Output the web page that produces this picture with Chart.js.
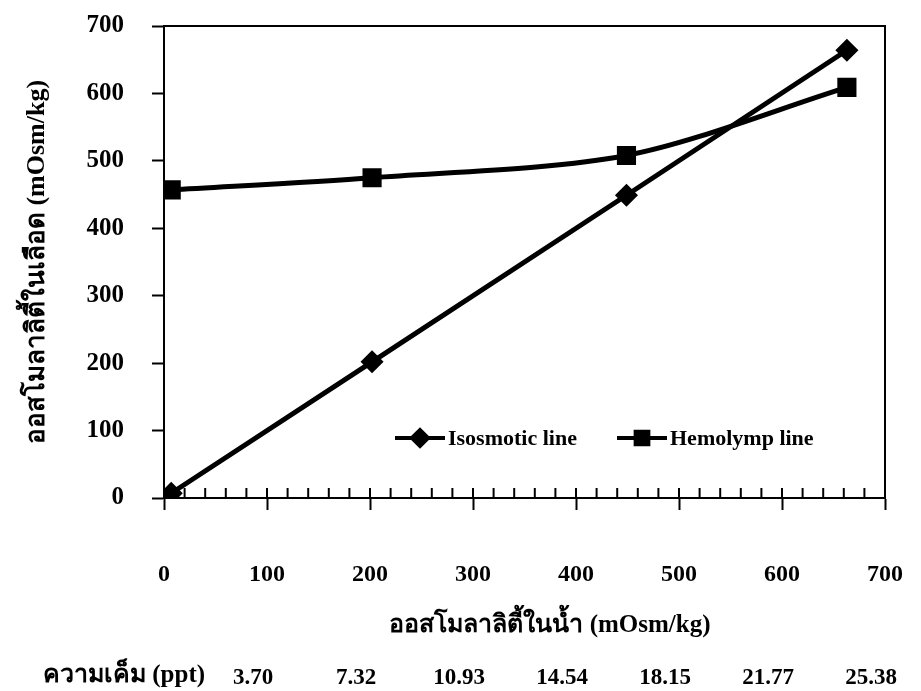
<!DOCTYPE html>
<html>
<head>
<meta charset="utf-8">
<script src="https://cdn.jsdelivr.net/npm/chart.js@4.4.0/dist/chart.umd.min.js"></script>
<style>
    html, body { margin: 0; padding: 0; background: #fff; }
    #div_chart { width: 921px; height: 691px; }
</style>
</head>
<body>
<div id="div_chart"><canvas id="myChart" width="921" height="691"></canvas></div>
<script>
// ค่าที่อ่านจากกราฟ
const osmNam = [7, 202, 449, 663];          // ออสโมลาลิตี้ในน้ำ
const isoLine = [7, 202, 449, 664];         // Isosmotic line
const hemoLine = [457, 475, 508, 609];      // Hemolymp line
const xTicks = [0, 100, 200, 300, 400, 500, 600, 700];
const yTicks = [0, 100, 200, 300, 400, 500, 600, 700];
const pptTicks = [100, 200, 300, 400, 500, 600, 700];
const pptLabels = ['3.70', '7.32', '10.93', '14.54', '18.15', '21.77', '25.38'];
const seriesNames = ['Isosmotic line', 'Hemolymp line'];

const serif = '"Liberation Serif", "Noto Sans", serif';

function toPoints(xs, ys) {
    const pts = [];
    for (let i = 0; i < xs.length; i++) {
        pts.push({ x: xs[i], y: ys[i] });
    }
    return pts;
}

// khung, vạch chia nhỏ trục x, chú thích và hàng ppt
const extras = {
    id: 'extras',
    afterDraw(chart) {
        const ctx = chart.ctx;
        const a = chart.chartArea;
        const xs = chart.scales.x;
        ctx.save();
        ctx.strokeStyle = '#000';
        ctx.lineWidth = 2;
        ctx.strokeRect(a.left, a.top, a.right - a.left, a.bottom - a.top);

        // vạch chia hướng vào trong
        for (let v = 20; v < 700; v += 20) {
            const px = xs.getPixelForValue(v);
            ctx.beginPath();
            ctx.moveTo(px, a.bottom);
            ctx.lineTo(px, a.bottom - 10);
            ctx.stroke();
        }

        // chú thích
        const legendY = 438;
        const items = [
            { x: 395, style: 'rectRot', r: 8, name: seriesNames[0] },
            { x: 617, style: 'rect', r: 9, name: seriesNames[1] }
        ];
        ctx.font = 'bold 22px ' + serif;
        ctx.textBaseline = 'middle';
        ctx.textAlign = 'left';
        ctx.fillStyle = '#000';
        items.forEach(function (it) {
            ctx.lineWidth = 4;
            ctx.beginPath();
            ctx.moveTo(it.x, legendY);
            ctx.lineTo(it.x + 50, legendY);
            ctx.stroke();
            Chart.helpers.drawPoint(ctx, {
                pointStyle: it.style, radius: it.r, rotation: 0, borderWidth: 1
            }, it.x + 25, legendY);
            ctx.fillStyle = '#000';
            ctx.fill();
            ctx.fillText(it.name, it.x + 53, legendY + 1);
        });

        // tiêu đề trục x
        ctx.textAlign = 'center';
        ctx.font = 'bold 25px ' + serif;
        ctx.fillText('ออสโมลาลิตี้ในน้ำ (mOsm/kg)', 550, 626);

        // hàng độ mặn
        ctx.font = 'bold 23px ' + serif;
        for (let i = 0; i < pptTicks.length; i++) {
            ctx.fillText(pptLabels[i], xs.getPixelForValue(pptTicks[i]) - 14, 678);
        }
        ctx.textAlign = 'left';
        ctx.font = 'bold 25px ' + serif;
        ctx.fillText('ความเค็ม (ppt)', 43, 676);
        ctx.restore();
    }
};

function loadData() {
    const data = {
        datasets: [{
            label: seriesNames[0],
            data: toPoints(osmNam, isoLine),
            borderColor: '#000',
            backgroundColor: '#000',
            borderWidth: 5,
            pointStyle: 'rectRot',
            pointRadius: 8,
            tension: 0
        },
        {
            label: seriesNames[1],
            data: toPoints(osmNam, hemoLine),
            borderColor: '#000',
            backgroundColor: '#000',
            borderWidth: 5,
            pointStyle: 'rect',
            pointRadius: 10,
            tension: 0.3
        }]
    };

    const config = {
        type: 'line',
        data: data,
        plugins: [extras],
        options: {
            responsive: false,
            animation: false,
            events: [],
            layout: {
                padding: { left: 0, right: 36, top: 26, bottom: 0 }
            },
            plugins: {
                legend: { display: false },
                tooltip: { enabled: false }
            },
            scales: {
                x: {
                    type: 'linear',
                    min: 0,
                    max: 700,
                    afterFit: function (s) {
                        s.height = 691 - 498;
                        s.paddingLeft = 0;
                        s.paddingRight = 0;
                    },
                    afterBuildTicks: function (s) {
                        s.ticks = [];
                        for (let v = 0; v <= 700; v += 20) s.ticks.push({ value: v });
                    },
                    border: { display: true, color: '#000', width: 2 },
                    grid: {
                        drawOnChartArea: false,
                        tickLength: 12,
                        tickWidth: 2,
                        tickColor: function (c) {
                            return xTicks.indexOf(c.tick.value) >= 0 ? '#000' : 'rgba(0,0,0,0)';
                        }
                    },
                    ticks: {
                        autoSkip: false,
                        maxRotation: 0,
                        padding: 50,
                        color: '#000',
                        font: { family: serif, size: 24, weight: 'bold' },
                        callback: function (v) {
                            return xTicks.indexOf(v) >= 0 ? String(v) : '';
                        }
                    }
                },
                y: {
                    min: 0,
                    max: 700,
                    afterFit: function (s) {
                        s.width = 164;
                        s.paddingTop = 0;
                        s.paddingBottom = 0;
                    },
                    afterBuildTicks: function (s) {
                        s.ticks = yTicks.map(function (v) { return { value: v }; });
                    },
                    border: { display: true, color: '#000', width: 2 },
                    grid: {
                        drawOnChartArea: false,
                        tickLength: 12,
                        tickWidth: 2,
                        tickColor: '#000'
                    },
                    ticks: {
                        padding: 28,
                        color: '#000',
                        font: { family: serif, size: 25, weight: 'bold' }
                    },
                    title: {
                        display: true,
                        text: 'ออสโมลาลิตี้ในเลือด (mOsm/kg)',
                        color: '#000',
                        font: { family: serif, size: 26, weight: 'bold' },
                        padding: { top: 22, bottom: 0 }
                    }
                }
            }
        }
    };

    new Chart(document.getElementById('myChart'), config);
}

loadData();
</script>
</body>
</html>
